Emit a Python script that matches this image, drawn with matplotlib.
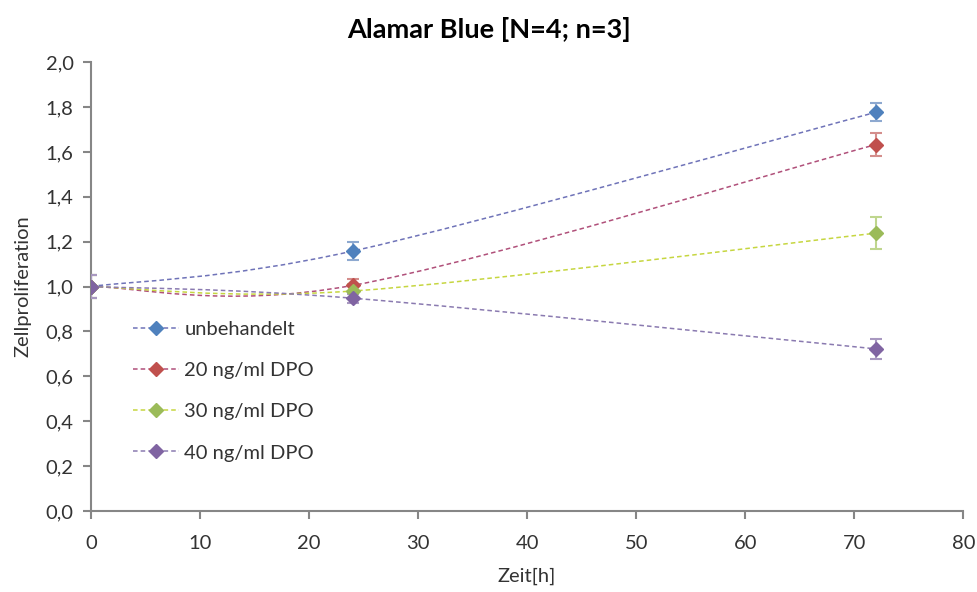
import matplotlib
matplotlib.use("Agg")
import matplotlib.pyplot as plt
import numpy as np
from matplotlib.path import Path
from matplotlib.patches import PathPatch
from matplotlib.ticker import FuncFormatter

plt.rcParams['font.family'] = ['Lato', 'DejaVu Sans']

# Daten
zeit = [0, 24, 72]
labels = ['unbehandelt', '20 ng/ml DPO', '30 ng/ml DPO', '40 ng/ml DPO']
unbehandelt = [1.0, 1.158, 1.777]
dpo20 = [1.0, 1.005, 1.633]
dpo30 = [1.0, 0.98, 1.238]
dpo40 = [1.0, 0.948, 0.722]
err_unbeh = [0.05, 0.04, 0.04]
err_20 = [0.05, 0.03, 0.05]
err_30 = [0.05, 0.03, 0.07]
err_40 = [0.05, 0.02, 0.045]

farben = ['#4F81BD', '#C0504D', '#9BBB59', '#8064A2']
err_farben = ['#8EA9D0', '#D48E8C', '#BFD68E', '#A898C0']
linien = ['#6F73B8', '#B0507A', '#C6D640', '#8A7AB0']


def smooth_path(xs, ys):
    # Excel-artige Glättung als kubische Bezier-Kurve
    pts = np.column_stack([xs, ys]).astype(float)
    n = len(pts)
    verts = [pts[0]]
    codes = [Path.MOVETO]
    for i in range(n - 1):
        p0 = pts[i - 1] if i > 0 else pts[i]
        p1 = pts[i]
        p2 = pts[i + 1]
        p3 = pts[i + 2] if i + 2 < n else pts[i + 1]
        c1 = p1 + (p2 - p0) / 6.0
        c2 = p2 - (p3 - p1) / 6.0
        verts += [c1, c2, p2]
        codes += [Path.CURVE4] * 3
    return Path(verts, codes)


fig = plt.figure(figsize=(9.78, 5.92), dpi=100)
ax = fig.add_axes([0.093, 0.137, 0.892, 0.758])

reihen = [unbehandelt, dpo20, dpo30, dpo40]
fehler = [err_unbeh, err_20, err_30, err_40]
for i in range(4):
    p = smooth_path(zeit, reihen[i])
    ax.add_patch(PathPatch(p, facecolor='none', edgecolor=linien[i], lw=1.1,
                           linestyle=(0, (3, 2)), zorder=2))
    ax.errorbar(zeit, reihen[i], yerr=fehler[i], fmt='none', ecolor=err_farben[i],
                elinewidth=1.5, capsize=4, capthick=1.5, zorder=3)
    ax.plot(zeit, reihen[i], linestyle='none', marker='D', markersize=7,
            color=farben[i], zorder=4)
    # Legendeneintrag
    ax.plot([], [], linestyle=(0, (3, 2)), lw=1.1, color=linien[i], marker='D',
            markersize=7, markerfacecolor=farben[i], markeredgecolor=farben[i],
            label=labels[i])

ax.set_xlim(0, 80)
ax.set_ylim(0, 2.0)
ax.set_xticks(np.arange(0, 81, 10))
ax.set_yticks(np.arange(0, 2.01, 0.2))
ax.yaxis.set_major_formatter(FuncFormatter(lambda v, p: ('%.1f' % v).replace('.', ',')))

for s in ['top', 'right']:
    ax.spines[s].set_visible(False)
for s in ['left', 'bottom']:
    ax.spines[s].set_color('#868686')
    ax.spines[s].set_linewidth(1.5)
ax.tick_params(axis='both', colors='#868686', labelcolor='#333333', labelsize=14.5,
               length=5.5, width=1.5, direction='out')
ax.tick_params(axis='x', pad=12)
ax.tick_params(axis='y', pad=7)

fig.text(0.5, 1 - 30 / 592, 'Alamar Blue [N=4; n=3]', fontsize=19.5, fontweight='bold',
         ha='center', va='center')
ax.set_xlabel('Zeit[h]', fontsize=14.5, labelpad=11, color='#333333')
ax.set_ylabel('Zellproliferation', fontsize=14.5, labelpad=10, color='#333333')

leg = ax.legend(loc='center left', bbox_to_anchor=(0.048, 0.267), frameon=False,
                fontsize=14.5, handlelength=2.3, labelspacing=1.2, handletextpad=0.25,
                borderpad=0, borderaxespad=0)
for t in leg.get_texts():
    t.set_color('#333333')

fig.savefig('out.png', dpi=100)
